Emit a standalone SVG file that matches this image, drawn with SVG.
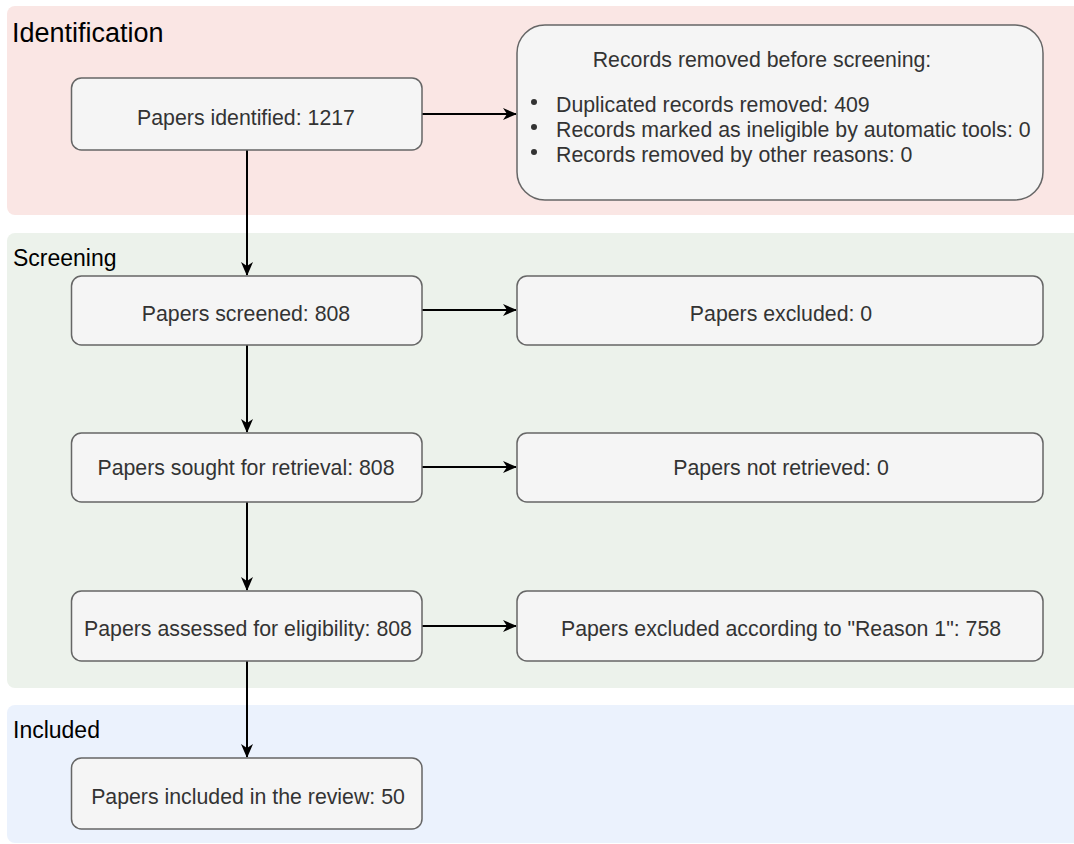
<svg xmlns="http://www.w3.org/2000/svg" width="1074" height="844" viewBox="0 0 1074 844">
<style>
.band-id{fill:#fae6e4}
.band-sc{fill:#ecf2eb}
.band-in{fill:#ebf2fd}
.lane{font-family:"Liberation Sans",Arial,sans-serif;fill:#000}
.box{fill:#f5f5f5;stroke:#666;stroke-width:1.5}
.t{font-family:"Liberation Sans",Arial,sans-serif;font-size:21.3px;fill:#333;text-anchor:middle}
.tl{font-family:"Liberation Sans",Arial,sans-serif;font-size:21.3px;fill:#333}
.edge{stroke:#000;stroke-width:2;fill:none;marker-end:url(#arr)}
</style>
<defs>
<marker id="arr" viewBox="0 0 14 12" refX="13" refY="6" markerWidth="14" markerHeight="12" markerUnits="userSpaceOnUse" orient="auto">
<path d="M0,0 L14,6 L0,12 L4,6 z" fill="#000"/>
</marker>
</defs>
<g id="lanes">
<rect class="band-id" x="7" y="6" width="1080" height="209" rx="8"/>
<text class="lane" x="12" y="42" font-size="27">Identification</text>
<rect class="band-sc" x="7" y="233" width="1080" height="455" rx="8"/>
<text class="lane" x="13" y="266" font-size="23">Screening</text>
<rect class="band-in" x="7" y="705" width="1080" height="138" rx="8"/>
<text class="lane" x="13" y="738" font-size="23">Included</text>
</g>
<g id="connectors">
<line class="edge" x1="422" y1="114" x2="516" y2="114"/>
<line class="edge" x1="247" y1="150" x2="247" y2="275"/>
<line class="edge" x1="422" y1="310" x2="516" y2="310"/>
<line class="edge" x1="247" y1="345" x2="247" y2="432"/>
<line class="edge" x1="422" y1="467" x2="516" y2="467"/>
<line class="edge" x1="247" y1="502" x2="247" y2="590"/>
<line class="edge" x1="422" y1="626" x2="516" y2="626"/>
<line class="edge" x1="247" y1="661" x2="247" y2="757"/>
</g>
<g id="n-identified">
<rect class="box" x="71.5" y="78" width="350.5" height="72" rx="10"/>
<text class="t" x="246" y="125">Papers identified: 1217</text>
</g>
<g id="n-removed">
<rect class="box" x="517" y="25" width="526" height="175" rx="28"/>
<text class="t" x="762" y="67">Records removed before screening:</text>
<circle cx="534" cy="102" r="3" fill="#333"/>
<circle cx="534" cy="127" r="3" fill="#333"/>
<circle cx="534" cy="152" r="3" fill="#333"/>
<text class="tl" x="556" y="112">Duplicated records removed: 409</text>
<text class="tl" x="556" y="137">Records marked as ineligible by automatic tools: 0</text>
<text class="tl" x="556" y="162">Records removed by other reasons: 0</text>
</g>
<g id="n-screened">
<rect class="box" x="71.5" y="276" width="350.5" height="69" rx="10"/>
<text class="t" x="246" y="321">Papers screened: 808</text>
</g>
<g id="n-excluded">
<rect class="box" x="517" y="276" width="526" height="69" rx="10"/>
<text class="t" x="781" y="321">Papers excluded: 0</text>
</g>
<g id="n-sought">
<rect class="box" x="71.5" y="433" width="350.5" height="69" rx="10"/>
<text class="t" x="246" y="475">Papers sought for retrieval: 808</text>
</g>
<g id="n-notretrieved">
<rect class="box" x="517" y="433" width="526" height="69" rx="10"/>
<text class="t" x="781" y="475">Papers not retrieved: 0</text>
</g>
<g id="n-assessed">
<rect class="box" x="71.5" y="591" width="350.5" height="70" rx="10"/>
<text class="t" x="248" y="636">Papers assessed for eligibility: 808</text>
</g>
<g id="n-reason">
<rect class="box" x="517" y="591" width="526" height="70" rx="10"/>
<text class="t" x="781" y="636">Papers excluded according to "Reason 1": 758</text>
</g>
<g id="n-included">
<rect class="box" x="71.5" y="758" width="350.5" height="71" rx="10"/>
<text class="t" x="248" y="804">Papers included in the review: 50</text>
</g>
</svg>
